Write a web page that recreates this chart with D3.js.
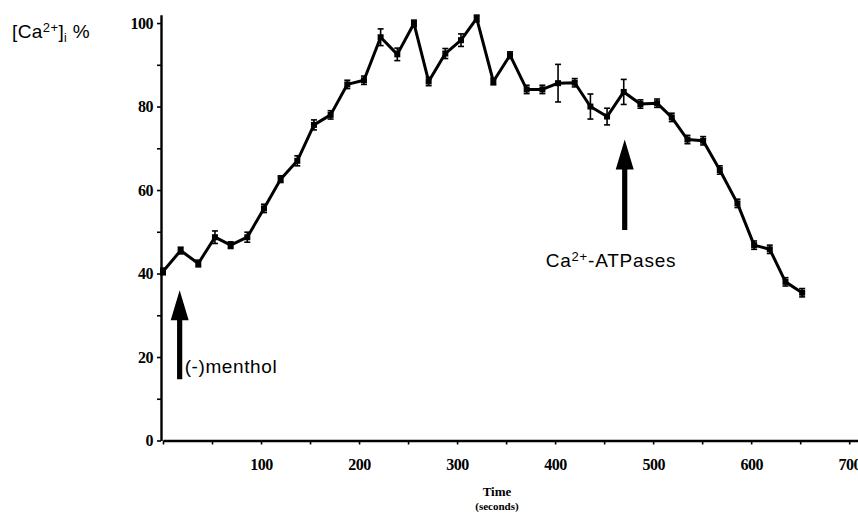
<!DOCTYPE html>
<html>
<head>
<meta charset="utf-8">
<script src="https://cdn.jsdelivr.net/npm/d3@7"></script>
<style>
  body { margin: 0; background: #fff; }
  svg { display: block; }
  .tick text { font-family: 'Liberation Serif', 'DejaVu Serif', serif; font-weight: bold; font-size: 16px; letter-spacing: -0.5px; }
  .note { font-family: 'Liberation Sans', Arial, sans-serif; font-size: 19px; fill: #000; }
</style>
</head>
<body>
<div id="chart"></div>
<script>
// time in seconds, [Ca2+]i as % of max
const times = [0, 18, 36, 53, 69, 86, 103, 120, 137, 154, 171, 188, 205, 222, 239, 256, 271, 288, 304, 320,
  337, 354, 371, 387, 403, 420, 436, 453, 470, 487, 504, 519, 535, 551, 568, 586, 603, 619, 635, 652];
const values = [40.5, 45.5, 42.4, 48.7, 46.8, 48.7, 55.6, 62.6, 67, 75.6, 78, 85.3, 86.3, 96.6, 92.5, 99.9, 86, 92.7, 95.9, 101.1,
  86, 92.3, 84.1, 84.1, 85.6, 85.7, 80, 77.6, 83.5, 80.6, 80.8, 77.4, 72.1, 71.8, 64.8, 56.8, 46.8, 45.8, 38, 35.4];
const errs = [0.8, 0.8, 0.8, 1.5, 0.8, 1.2, 1, 0.8, 1.2, 1.2, 1, 1, 1, 2, 1.5, 0.8, 1, 1.2, 1.5, 0.8,
  0.8, 0.8, 1, 1, 4.5, 1, 3, 2, 3, 1, 1, 1, 1, 1, 1, 1, 1, 1, 1, 1];

const xTicks = [0, 50, 100, 150, 200, 250, 300, 350, 400, 450, 500, 550, 600, 650, 700];
const yTicks = [0, 10, 20, 30, 40, 50, 60, 70, 80, 90, 100];

// arrows: time, bottom and tip in % units
const arrowTimes = [17, 471];
const arrowFrom = [14.7, 50.4];
const arrowTo = [36, 72.1];

const width = 858, height = 525;

const data = times.map((t, i) => ({ t, v: values[i], e: errs[i] }));

const svg = d3.select('#chart')
  .append('svg')
  .attr('width', width)
  .attr('height', height);

const x = d3.scaleLinear().domain([0, 710]).range([163, 859]);
const y = d3.scaleLinear().domain([0, 102]).range([440.5, 14.7]);

// axes
const xAxis = svg.append('g')
  .attr('transform', `translate(0,${y(0)})`)
  .call(d3.axisBottom(x)
    .tickValues(xTicks)
    .tickSize(4)
    .tickPadding(14)
    .tickSizeOuter(0)
    .tickFormat(d => (d % 100 === 0 && d > 0 ? d : '')));

const yAxis = svg.append('g')
  .attr('transform', `translate(${x(0) - 2},0)`)
  .call(d3.axisLeft(y)
    .tickValues(yTicks)
    .tickSize(4)
    .tickPadding(4)
    .tickSizeOuter(0)
    .tickFormat(d => (d % 20 === 0 ? d : '')));

[xAxis, yAxis].forEach(g => {
  g.select('.domain').attr('stroke', '#000').attr('stroke-width', 2.4);
  g.selectAll('.tick line').attr('stroke', '#000').attr('stroke-width', 1.6);
  g.selectAll('.tick text').attr('fill', '#000');
});

// data line
const ink = svg.append('g');

ink.append('path')
  .datum(data)
  .attr('fill', 'none')
  .attr('stroke', '#000')
  .attr('stroke-width', 3)
  .attr('stroke-linejoin', 'round')
  .attr('d', d3.line().x(d => x(d.t)).y(d => y(d.v)));

// error bars
const bars = ink.selectAll('.err')
  .data(data)
  .enter()
  .append('g')
  .attr('class', 'err')
  .attr('stroke', '#000')
  .attr('stroke-width', 1.6);

bars.append('line')
  .attr('x1', d => x(d.t)).attr('x2', d => x(d.t))
  .attr('y1', d => y(d.v + d.e)).attr('y2', d => y(d.v - d.e));
bars.append('line')
  .attr('x1', d => x(d.t) - 3).attr('x2', d => x(d.t) + 3)
  .attr('y1', d => y(d.v + d.e)).attr('y2', d => y(d.v + d.e));
bars.append('line')
  .attr('x1', d => x(d.t) - 3).attr('x2', d => x(d.t) + 3)
  .attr('y1', d => y(d.v - d.e)).attr('y2', d => y(d.v - d.e));

// square markers
ink.selectAll('rect.mark')
  .data(data)
  .enter()
  .append('rect')
  .attr('class', 'mark')
  .attr('x', d => x(d.t) - 3)
  .attr('y', d => y(d.v) - 3)
  .attr('width', 6)
  .attr('height', 6)
  .attr('fill', '#000');

// arrows
const drawArrow = (t, v0, v1) => {
  const ax = x(t), yb = y(v0), yt = y(v1);
  const headLen = 30, headW = 9, shaftW = 2.6;
  const p = d3.path();
  p.moveTo(ax - shaftW, yb);
  p.lineTo(ax - shaftW, yt + headLen);
  p.lineTo(ax - headW, yt + headLen);
  p.lineTo(ax, yt);
  p.lineTo(ax + headW, yt + headLen);
  p.lineTo(ax + shaftW, yt + headLen);
  p.lineTo(ax + shaftW, yb);
  p.closePath();
  svg.append('path').attr('d', p.toString()).attr('fill', '#000');
};

arrowTimes.forEach((t, i) => drawArrow(t, arrowFrom[i], arrowTo[i]));

// arrow labels
svg.append('text')
  .attr('class', 'note')
  .attr('x', x(arrowTimes[0]) + 5)
  .attr('y', y(arrowFrom[0]) - 6)
  .attr('letter-spacing', 0.6)
  .text('(-)menthol');

const caLabel = svg.append('text')
  .attr('class', 'note')
  .attr('x', x(arrowTimes[1]) - 79)
  .attr('y', 267)
  .attr('letter-spacing', 0.8);
caLabel.append('tspan').text('Ca');
caLabel.append('tspan').attr('font-size', 13).attr('dy', -6).text('2+');
caLabel.append('tspan').attr('dy', 6).text('-ATPases');

// y label
const yLabel = svg.append('text')
  .attr('class', 'note')
  .attr('x', 12)
  .attr('y', 38)
  .attr('letter-spacing', 0.4);
yLabel.append('tspan').text('[Ca');
yLabel.append('tspan').attr('font-size', 13).attr('dy', -6).text('2+');
yLabel.append('tspan').attr('dy', 6).text(']');
yLabel.append('tspan').attr('font-size', 12).attr('dy', 4).text('i');
yLabel.append('tspan').attr('dy', -4).text(' %');

// x label
svg.append('text')
  .attr('x', 497)
  .attr('y', 496)
  .attr('text-anchor', 'middle')
  .attr('font-family', "'Liberation Serif', serif")
  .attr('font-weight', 'bold')
  .attr('font-size', 13)
  .text('Time');

svg.append('text')
  .attr('x', 497)
  .attr('y', 510)
  .attr('text-anchor', 'middle')
  .attr('font-family', "'Liberation Serif', serif")
  .attr('font-weight', 'bold')
  .attr('font-size', 11)
  .text('(seconds)');
</script>
</body>
</html>
